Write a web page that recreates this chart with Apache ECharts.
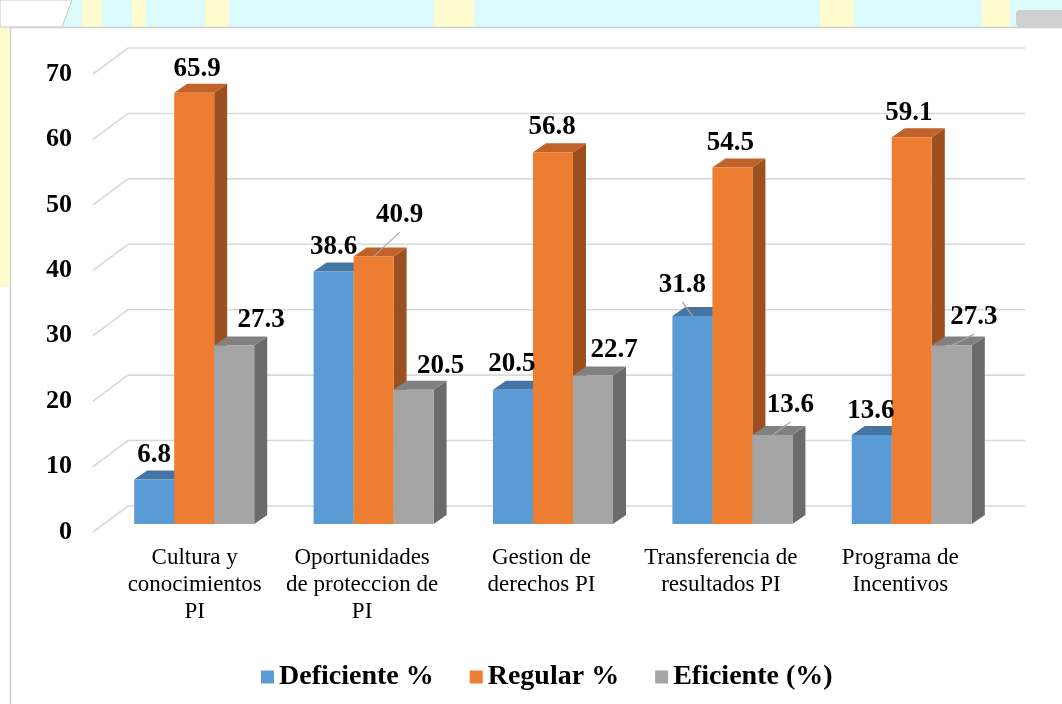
<!DOCTYPE html>
<html>
<head>
<meta charset="utf-8">
<script src="https://cdn.jsdelivr.net/npm/echarts@6/dist/echarts.min.js"></script>
<style>html,body{margin:0;padding:0;background:#fff}#c{width:1062px;height:704px}</style>
</head>
<body>
<div id="c"></div>
<script>
// ---- data ----
const categories = ['Cultura y\nconocimientos\nPI', 'Oportunidades\nde proteccion de\nPI', 'Gestion de\nderechos PI', 'Transferencia de\nresultados PI', 'Programa de\nIncentivos'];
const seriesNames = ['Deficiente %', 'Regular %', 'Eficiente (%)'];
const deficiente = [6.8, 38.6, 20.5, 31.8, 13.6];
const regular = [65.9, 40.9, 56.8, 54.5, 59.1];
const eficiente = [27.3, 20.5, 22.7, 13.6, 27.3];
const yTicks = [0, 10, 20, 30, 40, 50, 60, 70];

// ---- layout / style (not data) ----
const WALL = [35, -26];     // depth offset of back wall
const PLANE = [11.5, -8];   // bar front plane offset
const BD = [13, -9];        // bar depth
const FONT = '"Liberation Serif", "Times New Roman", serif';
const faceColors = [
  { front: '#5B9BD5', top: '#4675A3', side: '#3E6A95' },
  { front: '#ED7D31', top: '#C0622A', side: '#9C4F1F' },
  { front: '#A5A5A5', top: '#818181', side: '#6B6B6B' }
];
const labelDX = [[0, 0, -1, -10, -1], [3, 26, -1, -2, -3], [27, 27, 21, 18, 22]];
const labelDY = [[-15, -15, -17, -22, -15], [-15, -32, -16, -15, -15], [-16, -15, -16, -21, -19]];
const leader = [[0, 0, 0, 1, 0], [0, 1, 0, 0, 0], [0, 0, 0, 1, 1]];

const chart = echarts.init(document.getElementById('c'), null, { renderer: 'canvas' });

function gridRender(params, api) {
  const v = api.value(1);
  const p = api.coord([0, v]);
  const cs = params.coordSys;
  const y = p[1];
  return {
    type: 'polyline',
    shape: { points: [[cs.x, y], [cs.x + WALL[0], y + WALL[1]], [cs.x + cs.width + WALL[0], y + WALL[1]]] },
    style: { stroke: '#D9D9D9', lineWidth: 1.6, fill: null }
  };
}

function makeBarRender(k) {
  return function (params, api) {
    const idx = api.value(0);
    const v = api.value(1);
    const top = api.coord([idx, v]);
    const base = api.coord([idx, 0]);
    const band = api.size([1, 0])[0];
    const w = band * 0.223;
    const cx = top[0] + (k - 1) * w + PLANE[0];
    const x0 = cx - w / 2, x1 = cx + w / 2;
    const yt = top[1] + PLANE[1], yb = base[1] + PLANE[1];
    const c = faceColors[k];
    const children = [
      { type: 'polygon', shape: { points: [[x1, yt], [x1 + BD[0], yt + BD[1]], [x1 + BD[0], yb + BD[1]], [x1, yb]] }, style: { fill: c.side } },
      { type: 'polygon', shape: { points: [[x0, yt], [x1, yt], [x1 + BD[0], yt + BD[1]], [x0 + BD[0], yt + BD[1]]] }, style: { fill: c.top } },
      { type: 'rect', shape: { x: x0, y: yt, width: w, height: yb - yt }, style: { fill: c.front } }
    ];
    const lx = cx + labelDX[k][idx];
    const ly = yt + BD[1] + labelDY[k][idx];
    if (leader[k][idx]) {
      children.push({ type: 'line', z2: 99, shape: { x1: lx, y1: ly + 17, x2: cx, y2: yt }, style: { stroke: '#A6A6A6', lineWidth: 1.2 } });
    }
    children.push({
      type: 'text', z2: 100, x: lx, y: ly,
      style: { text: String(v), fill: '#000', font: 'bold 27px ' + FONT, align: 'center', verticalAlign: 'middle' }
    });
    return { type: 'group', children: children };
  };
}

const dataSets = [deficiente, regular, eficiente];

const option = {
  backgroundColor: '#ffffff',
  animation: false,
  graphic: [
    { type: 'rect', z: -10, shape: { x: 0, y: 0, width: 1062, height: 27 }, style: { fill: '#DBFBFD' } },
    { type: 'rect', z: -9, shape: { x: 82, y: 0, width: 20, height: 27 }, style: { fill: '#FFFBCF' } },
    { type: 'rect', z: -9, shape: { x: 132, y: 0, width: 14, height: 27 }, style: { fill: '#FFFBCF' } },
    { type: 'rect', z: -9, shape: { x: 205, y: 0, width: 24, height: 27 }, style: { fill: '#FFFBCF' } },
    { type: 'rect', z: -9, shape: { x: 434, y: 0, width: 40, height: 27 }, style: { fill: '#FFFBCF' } },
    { type: 'rect', z: -9, shape: { x: 820, y: 0, width: 34, height: 27 }, style: { fill: '#FFFBCF' } },
    { type: 'rect', z: -9, shape: { x: 982, y: 0, width: 28, height: 27 }, style: { fill: '#FFFBCF' } },
    { type: 'polygon', z: -8, shape: { points: [[0, 0], [72, 0], [62, 27], [0, 27]] }, style: { fill: '#ffffff', stroke: '#C8C8C8', lineWidth: 1 } },
    { type: 'rect', z: -8, shape: { x: 1016, y: 10, width: 60, height: 17, r: 4 }, style: { fill: '#CFCFCF' } },
    { type: 'rect', z: -9, shape: { x: 0, y: 27, width: 10, height: 260 }, style: { fill: '#FFFBCF' } },
    { type: 'rect', z: -7, shape: { x: 10.5, y: 27.5, width: 1100, height: 800 }, style: { fill: '#ffffff', stroke: '#D0D0D0', lineWidth: 1.5 } }
  ],
  grid: { left: 93, right: 72, top: 74, bottom: 172, containLabel: false },
  legend: {
    data: seriesNames,
    left: 256, top: 658,
    icon: 'rect', itemWidth: 13, itemHeight: 13, itemGap: 36,
    textStyle: { fontFamily: FONT, fontWeight: 'bold', fontSize: 28, color: '#000' }
  },
  xAxis: {
    type: 'category', data: categories, boundaryGap: true,
    axisLine: { show: false }, axisTick: { show: false }, splitLine: { show: false },
    axisLabel: {
      interval: 0, margin: 12, color: '#000', fontFamily: FONT, fontSize: 23, lineHeight: 27,
      formatter: function (val, i) { return i === 0 ? '{a|' + val.split('\n').join('}\n{a|') + '}' : val; },
      rich: { a: { fontFamily: FONT, fontSize: 23, lineHeight: 27, color: '#000', padding: [0, 0, 0, 24] } }
    }
  },
  yAxis: {
    type: 'value', min: 0, max: 70, interval: 10,
    axisLine: { show: false }, axisTick: { show: false }, splitLine: { show: false },
    axisLabel: { margin: 21, color: '#000', fontFamily: FONT, fontWeight: 'bold', fontSize: 26 }
  },
  series: [
    {
      type: 'custom', name: '_grid', silent: true, clip: false, z: 1,
      renderItem: gridRender,
      data: yTicks.map(v => [0, v])
    }
  ].concat(dataSets.map((arr, k) => ({
    type: 'custom', name: seriesNames[k], clip: false, z: 2,
    itemStyle: { color: faceColors[k].front },
    renderItem: makeBarRender(k),
    data: arr.map((v, i) => [i, v])
  })))
};
chart.setOption(option);
</script>
</body>
</html>
